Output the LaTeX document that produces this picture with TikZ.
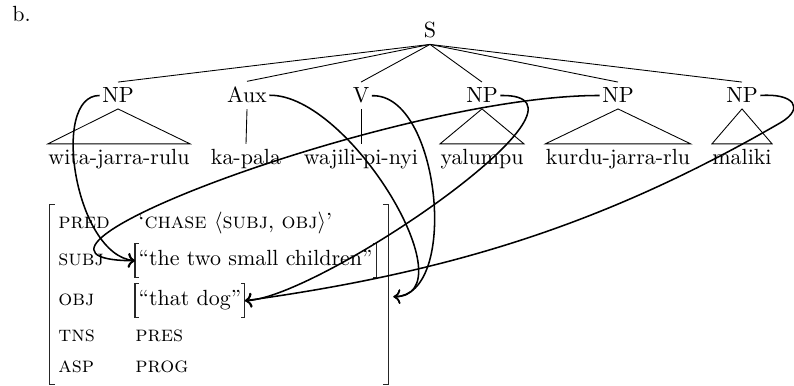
\documentclass[tikz,border=0pt]{standalone}
\usetikzlibrary{arrows.meta,calc,positioning,fit}

% square brackets round a node
\newcommand\sqbrackets[2][2pt]{%
  \draw[brk] ([xshift=#1]#2.north west) -- (#2.north west) -- (#2.south west) -- ([xshift=#1]#2.south west);
  \draw[brk] ([xshift=-#1]#2.north east) -- (#2.north east) -- (#2.south east) -- ([xshift=-#1]#2.south east);}

\begin{document}
\begin{tikzpicture}[x=0.016cm,y=-0.016cm,
cat/.style={anchor=base,inner xsep=1pt,inner ysep=2.5pt},
word/.style={anchor=base,inner xsep=0pt,inner ysep=2.5pt},
attr/.style={anchor=base west,inner sep=0pt,font=\scshape},
fval/.style={anchor=base west,inner xsep=1.5pt,inner ysep=0pt,text height=10pt,text depth=5.2pt},
brk/.style={line width=.5pt,black!85},
link/.style={line width=.7pt,-{To}}]
\useasboundingbox (0,0) rectangle (794,386);

\node[anchor=base west,inner sep=0pt] (lbl) at (12,22) {b.};

% tree
\node[cat] (s) at (430,38) {S};
\node[cat] (np1) at (118,103) {NP};
\node[cat] (aux) at (247,103) {Aux};
\node[cat] (v) at (361,103) {V};
\node[cat] (np4) at (482,103) {NP};
\node[cat] (np5) at (618,103) {NP};
\node[cat] (np6) at (742,103) {NP};
\node[word] (w1) at (119,165) {wita-jarra-rulu};
\node[word] (w2) at (246,165) {ka-pala};
\node[word] (w3) at (361,165) {wajili-pi-nyi};
\node[word] (w4) at (482,165) {yalumpu};
\node[word] (w5) at (618,165) {kurdu-jarra-rlu};
\node[word] (w6) at (742,165) {maliki};
\draw (s.south) -- (np1.north);
\draw (s.south) -- (aux.north);
\draw (s.south) -- (v.north);
\draw (s.south) -- (np4.north);
\draw (s.south) -- (np5.north);
\draw (s.south) -- (np6.north);
\draw (np1.south) -- (w1.north west) -- (w1.north east) -- cycle;
\draw (aux.south) -- (w2.north);
\draw (v.south) -- (w3.north);
\draw (np4.south) -- (w4.north west) -- (w4.north east) -- cycle;
\draw (np5.south) -- (w5.north west) -- (w5.north east) -- cycle;
\draw (np6.south) -- (w6.north west) -- (w6.north east) -- cycle;

% f-structure
\node[attr] (pred) at (58,229) {pred};
\node[attr] (subj) at (58,266) {subj};
\node[attr] (obj) at (58,306) {obj};
\node[attr] (tns) at (58,342) {tns};
\node[attr] (asp) at (58,373) {asp};
\node[anchor=base west,inner sep=0pt] (predval) at (138,229) {`\textsc{chase} $\langle$\textsc{subj}, \textsc{obj}$\rangle$'};
\node[fval] (subjval) at (135,266) {``the two small children''};
\node[fval] (objval) at (135,306) {``that dog''};
\node[attr] (tnsval) at (135,342) {pres};
\node[attr] (aspval) at (135,373) {prog};
\node[fit={(50,205) (388,384)},inner sep=0pt] (fs) {};
\sqbrackets[2.3pt]{fs}
\sqbrackets[1.7pt]{subjval}
\sqbrackets[1.7pt]{objval}
\coordinate (fsobj) at ($(fs.east |- objval)+(5,-4)$);

% links
\draw[link] (np1.west) .. controls (50,95) and (75,255) .. (subjval.west);
\draw[link] (np5.west) .. controls (400,95) and (-40,260) .. (subjval.west);
\draw[link] (aux.east) .. controls (350,94) and (470,296) .. (fsobj);
\draw[link] (v.east) .. controls (440,93) and (460,296) .. (fsobj);
\draw[link] (np4.east) .. controls (620,93) and (320,298) .. (objval.east);
\draw[link] (np6.east) .. controls (793,93) and (806,108) .. (780,123)
  .. controls (607,223) and (453,272) .. (objval.east);
\end{tikzpicture}
\end{document}
